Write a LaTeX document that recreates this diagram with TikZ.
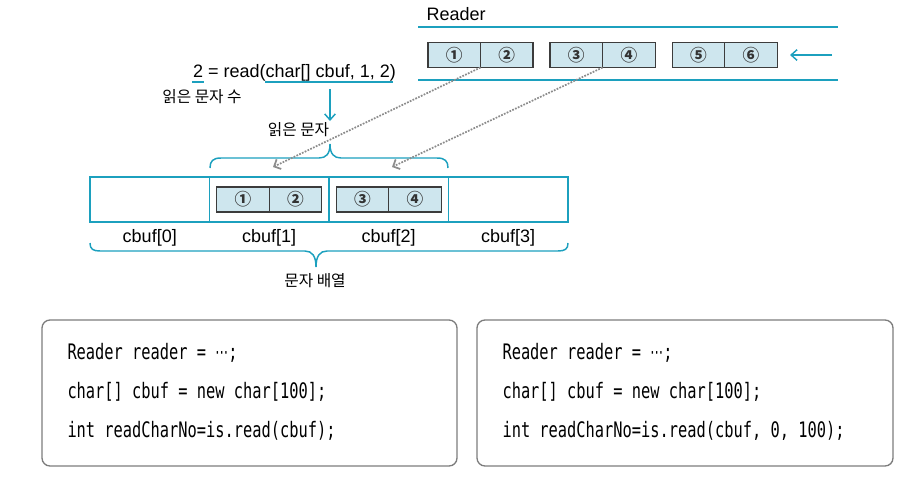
\documentclass[tikz,border=0pt]{standalone}
\usepackage{fontspec}
\setmainfont{Liberation Sans}
\newfontfamily\korfont{Noto Sans CJK KR}
\newfontfamily\codefont[FakeStretch=0.72]{DejaVu Sans Mono}
\newfontfamily\dotsfont[FakeStretch=0.6]{DejaVu Sans}
\usetikzlibrary{arrows.meta,positioning}

\definecolor{rdcyan}{RGB}{28,160,190}
\definecolor{cellfill}{RGB}{206,230,238}
\definecolor{celledge}{RGB}{60,60,60}
\definecolor{dotgray}{RGB}{140,140,140}
\definecolor{boxgray}{RGB}{125,125,125}

\tikzset{every picture/.style={line width=0.75pt},
  cell/.style={draw=celledge, fill=cellfill, line width=0.9pt, minimum width=39.4pt, minimum height=18.75pt, inner sep=0pt, outer sep=0pt, font=\korfont\bfseries\fontsize{12.5}{12}\selectfont, text=black!80},
  slot/.style={draw=rdcyan, line width=1pt, minimum width=89.6pt, minimum height=33.75pt, inner sep=0pt, outer sep=0pt},
  lbl/.style={inner sep=0pt, font=\fontsize{13.5}{14}\selectfont},
  kor/.style={inner sep=0pt, font=\korfont\fontsize{11.8}{12}\selectfont},
  codeline/.style={anchor=base west, inner sep=0pt, font=\codefont\fontsize{16}{17}\selectfont},
  codebox/.style={draw=boxgray, line width=1pt, rounded corners=6pt},
  cyanline/.style={draw=rdcyan, line width=1.1pt},
  barb/.style={-{Straight Barb[length=4.5pt,width=8pt]}},
  readarrow/.style={draw=dotgray, line width=1.3pt, densely dotted, -{Straight Barb[length=4pt,width=8pt]}},
}
\newcommand{\midots}{{\dotsfont ⋯}}

\begin{document}
\begin{tikzpicture}[x=0.75pt,y=0.75pt,yscale=-1,xscale=1]
\useasboundingbox (0,0) rectangle (902,479);

%Reader stream
\node[lbl, anchor=base west] (reader) at (426,20) {Reader};
\draw[cyanline] (418,27) -- (838,27) ;
\draw[cyanline] (418,80) -- (838,80) ;
\node[cell] (r1) at (454.25,55) {①};
\node[cell, right=0pt of r1] (r2) {②};
\node[cell, right=12.75pt of r2] (r3) {③};
\node[cell, right=0pt of r3] (r4) {④};
\node[cell, right=12.75pt of r4] (r5) {⑤};
\node[cell, right=0pt of r5] (r6) {⑥};
\coordinate (feedA) at (832,55);
\coordinate (feedB) at (790,55);
\draw[cyanline, barb] (feedA) -- (feedB) ;

%Call and labels
\node[lbl, anchor=base] (call) at (294.5,77) {2 = read(char[] cbuf, 1, 2)};
\draw[cyanline] (192,82) -- (204,82) ;
\draw[cyanline] (265,82) -- (393,82) ;
\node[kor] (count) at (202,97) {읽은 문자 수};
\coordinate (downA) at (330,89);
\coordinate (downB) at (330,121);
\draw[cyanline, barb] (downA) -- (downB) ;
\node[kor] (readchars) at (298.5,130) {읽은 문자};

%Brace over cbuf[1], cbuf[2]
\draw[cyanline] (210,168) .. controls (210,161) and (213,158) .. (221,158) -- (319,158) .. controls (326,158) and (330,154) .. (330,144) .. controls (330,154) and (334,158) .. (341,158) -- (437,158) .. controls (445,158) and (448,161) .. (448,168) ;

%cbuf array
\node[slot] (c0) at (149.75,199.5) {};
\node[slot, right=0pt of c0] (c1) {};
\node[slot, right=0pt of c1] (c2) {};
\node[slot, right=0pt of c2] (c3) {};
\node[cell] (b1) at (243,199.5) {①};
\node[cell, right=0pt of b1] (b2) {②};
\node[cell] (b3) at (362.5,199.5) {③};
\node[cell, right=0pt of b3] (b4) {④};

%Dotted copies
\coordinate (t1) at (273,167);
\coordinate (t2) at (392,167);
\draw[readarrow] (r1.south east) -- (t1) ;
\draw[readarrow] (r3.south east) -- (t2) ;

% Text Node
\node[lbl, anchor=base] (l0) at (c0.center |- 0,242) {cbuf[0]};
\node[lbl, anchor=base] (l1) at (c1.center |- 0,242) {cbuf[1]};
\node[lbl, anchor=base] (l2) at (c2.center |- 0,242) {cbuf[2]};
\node[lbl, anchor=base] (l3) at (c3.center |- 0,242) {cbuf[3]};

%Brace under array
\draw[cyanline] (90,243) .. controls (90,249) and (93,251) .. (100,251) -- (305,251) .. controls (312,251) and (316,256) .. (316,267) .. controls (316,256) and (320,251) .. (327,251) -- (558,251) .. controls (565,251) and (568,249) .. (568,243) ;
\node[kor] (chararray) at (315,281) {문자 배열};

%Code boxes
\draw[codebox] (42,320) rectangle (457,466) ;
\draw[codebox] (477,320) rectangle (893,466) ;
\node[codeline] (la) at (67,359) {Reader reader = \midots;};
\node[codeline] (lb) at (67,398) {char[] cbuf = new char[100];};
\node[codeline] (lc) at (67,437) {int readCharNo=is.read(cbuf);};
\node[codeline] (ra) at (502,359) {Reader reader = \midots;};
\node[codeline] (rb) at (502,398) {char[] cbuf = new char[100];};
\node[codeline] (rc) at (502,437) {int readCharNo=is.read(cbuf, 0, 100);};

\end{tikzpicture}
\end{document}
